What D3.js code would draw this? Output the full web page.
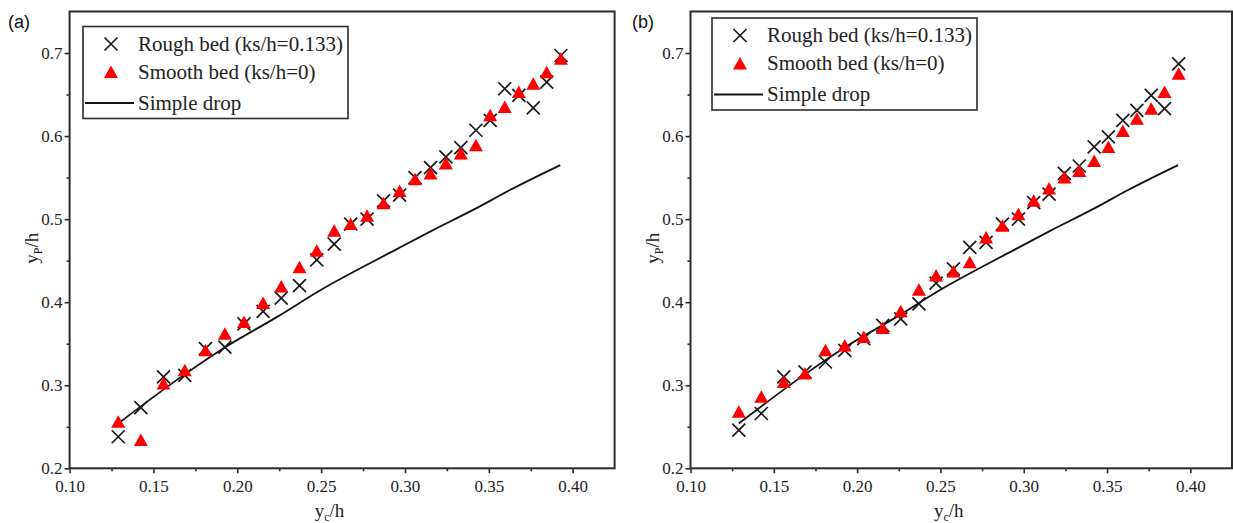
<!DOCTYPE html>
<html>
<head>
<meta charset="utf-8">
<script src="https://cdn.jsdelivr.net/npm/d3@7"></script>
</head>
<body style="margin:0;background:#fff">
<script>
const width = 1233
const height = 523
const serif = "'Liberation Serif', 'Times New Roman', serif"

// yc/h values, shared by both panels
const ycH = [0.129, 0.1425, 0.156, 0.1687, 0.181, 0.1926, 0.204, 0.2154, 0.2262, 0.2371,
  0.2474, 0.2578, 0.2676, 0.2774, 0.2872, 0.2968, 0.306, 0.3152, 0.3244, 0.3333,
  0.3423, 0.3508, 0.3595, 0.3679, 0.3765, 0.3845, 0.393]

// panel (a)
const roughA = [0.238, 0.273, 0.310, 0.312, 0.344, 0.346, 0.374, 0.389, 0.405, 0.420,
  0.451, 0.470, 0.494, 0.500, 0.522, 0.529, 0.550, 0.562, 0.575, 0.586,
  0.607, 0.619, 0.657, 0.649, 0.634, 0.665, 0.697]
const smoothA = [0.256, 0.234, 0.302, 0.318, 0.342, 0.362, 0.376, 0.399, 0.419, 0.442,
  0.462, 0.486, 0.494, 0.504, 0.519, 0.534, 0.548, 0.555, 0.567, 0.579,
  0.589, 0.625, 0.635, 0.653, 0.663, 0.677, 0.693]

// panel (b)
const roughB = [0.246, 0.266, 0.310, 0.316, 0.328, 0.342, 0.356, 0.372, 0.380, 0.398,
  0.423, 0.440, 0.466, 0.472, 0.494, 0.500, 0.520, 0.530, 0.555, 0.564,
  0.587, 0.599, 0.619, 0.631, 0.649, 0.633, 0.687]
const smoothB = [0.268, 0.286, 0.304, 0.314, 0.342, 0.348, 0.358, 0.369, 0.389, 0.415,
  0.432, 0.437, 0.448, 0.478, 0.492, 0.506, 0.522, 0.537, 0.550, 0.558,
  0.570, 0.587, 0.606, 0.621, 0.633, 0.653, 0.675]

// simple drop curve (same in both panels)
const dropX = [0.129, 0.1693, 0.193, 0.2235, 0.25, 0.2943, 0.315, 0.3415, 0.3626, 0.3926]
const dropY = [0.254, 0.314, 0.346, 0.382, 0.415, 0.463, 0.485, 0.512, 0.535, 0.565]

const xTicks = [0.10, 0.15, 0.20, 0.25, 0.30, 0.35, 0.40]
const xMinor = [0.125, 0.175, 0.225, 0.275, 0.325, 0.375]
const yTicks = [0.2, 0.3, 0.4, 0.5, 0.6, 0.7]
const yMinor = [0.25, 0.35, 0.45, 0.55, 0.65]

const legendLabels = ["Rough bed (ks/h=0.133)", "Smooth bed (ks/h=0)", "Simple drop"]

const svg = d3.select("body").append("svg")
  .attr("width", width)
  .attr("height", height)
  .style("display", "block")

const plotTop = 11.5
const plotBottom = 468.3

function styleAxis(sel) {
  sel.select(".domain").remove()
  sel.selectAll("line").attr("stroke", "#2b2b2b").attr("stroke-width", 1.6)
  sel.selectAll("text")
    .style("font-family", serif)
    .style("font-size", "17px")
    .attr("fill", "#222")
}

function drawPanel(p) {
  const x = d3.scaleLinear().domain([0.10, 0.425]).range([p.left, p.right])
  const y = d3.scaleLinear().domain([0.2, 0.75]).range([plotBottom, plotTop])

  const g = svg.append("g")

  // ticks
  g.append("g")
    .attr("transform", `translate(0,${plotBottom})`)
    .call(d3.axisBottom(x).tickValues(xTicks).tickFormat(d3.format(".2f")).tickSize(5).tickPadding(7))
    .call(styleAxis)
  g.append("g")
    .attr("transform", `translate(0,${plotBottom})`)
    .call(d3.axisBottom(x).tickValues(xMinor).tickFormat("").tickSize(3))
    .call(styleAxis)
  g.append("g")
    .attr("transform", `translate(${p.left},0)`)
    .call(d3.axisLeft(y).tickValues(yTicks).tickFormat(d3.format(".1f")).tickSize(5).tickPadding(2))
    .call(styleAxis)
  g.append("g")
    .attr("transform", `translate(${p.left},0)`)
    .call(d3.axisLeft(y).tickValues(yMinor).tickFormat("").tickSize(3))
    .call(styleAxis)

  // frame
  g.append("rect")
    .attr("x", p.left).attr("y", plotTop)
    .attr("width", p.right - p.left).attr("height", plotBottom - plotTop)
    .attr("fill", "none").attr("stroke", "#2b2b2b").attr("stroke-width", 2)

  // simple drop line
  const line = d3.line()
    .x((d, i) => x(dropX[i]))
    .y(d => y(d))
    .curve(d3.curveMonotoneX)
  g.append("path")
    .datum(dropY)
    .attr("d", line)
    .attr("fill", "none")
    .attr("stroke", "#111")
    .attr("stroke-width", 1.8)

  // rough bed: crosses
  g.selectAll(".rough")
    .data(p.rough)
    .enter()
    .append("path")
    .attr("class", "rough")
    .attr("transform", (d, i) => `translate(${x(ycH[i])},${y(d)})`)
    .attr("d", "M-6.5,-6.5L6.5,6.5M-6.5,6.5L6.5,-6.5")
    .attr("stroke", "#1a1a1a")
    .attr("stroke-width", 1.7)
    .attr("fill", "none")

  // smooth bed: red triangles
  g.selectAll(".smooth")
    .data(p.smooth)
    .enter()
    .append("path")
    .attr("class", "smooth")
    .attr("transform", (d, i) => `translate(${x(ycH[i])},${y(d)})`)
    .attr("d", "M0,-6.5L7,6L-7,6Z")
    .attr("fill", "#ff0000")

  // legend
  const lg = g.append("g")
    .attr("transform", `translate(${p.legendX},${p.legendY})`)
  lg.append("rect")
    .attr("width", 265).attr("height", 92)
    .attr("fill", "#fff").attr("stroke", "#2b2b2b").attr("stroke-width", 1.6)
  const rows = [17.5, 45.5, 76.5]
  lg.append("path")
    .attr("transform", `translate(28,${rows[0]})`)
    .attr("d", "M-6.5,-6.5L6.5,6.5M-6.5,6.5L6.5,-6.5")
    .attr("stroke", "#1a1a1a").attr("stroke-width", 1.7)
  lg.append("path")
    .attr("transform", `translate(28,${rows[1]})`)
    .attr("d", "M0,-6.5L7,6L-7,6Z")
    .attr("fill", "#ff0000")
  lg.append("line")
    .attr("x1", 2).attr("x2", 51)
    .attr("y1", rows[2]).attr("y2", rows[2])
    .attr("stroke", "#111").attr("stroke-width", 1.8)
  lg.selectAll("text")
    .data(legendLabels)
    .enter()
    .append("text")
    .attr("x", 55)
    .attr("y", (d, i) => rows[i] + 6.5)
    .style("font-family", serif)
    .style("font-size", "21px")
    .attr("fill", "#222")
    .text(d => d)

  // axis titles
  const xt = g.append("text")
    .attr("x", x(0.255)).attr("y", 517)
    .attr("text-anchor", "middle")
    .style("font-family", serif).style("font-size", "19px").attr("fill", "#222")
  xt.append("tspan").text("y")
  xt.append("tspan").style("font-size", "12px").attr("dy", 4).text("c")
  xt.append("tspan").attr("dy", -4).text("/h")

  const yt = g.append("text")
    .attr("transform", `translate(${p.left - 32},${y(0.465)}) rotate(-90)`)
    .attr("text-anchor", "middle")
    .style("font-family", serif).style("font-size", "19px").attr("fill", "#222")
  yt.append("tspan").text("y")
  yt.append("tspan").style("font-size", "12px").attr("dy", 4).text("P")
  yt.append("tspan").attr("dy", -4).text("/h")

  g.append("text")
    .attr("x", p.labelX).attr("y", 28)
    .style("font-family", "'Liberation Sans', Arial, sans-serif")
    .style("font-size", "18px")
    .attr("fill", "#111")
    .text(p.label)
}

drawPanel({ left: 69.6, right: 614.6, rough: roughA, smooth: smoothA, legendX: 83, legendY: 26.5, label: "(a)", labelX: 8 })
drawPanel({ left: 690.5, right: 1232, rough: roughB, smooth: smoothB, legendX: 712, legendY: 18, label: "(b)", labelX: 632 })
</script>
</body>
</html>
